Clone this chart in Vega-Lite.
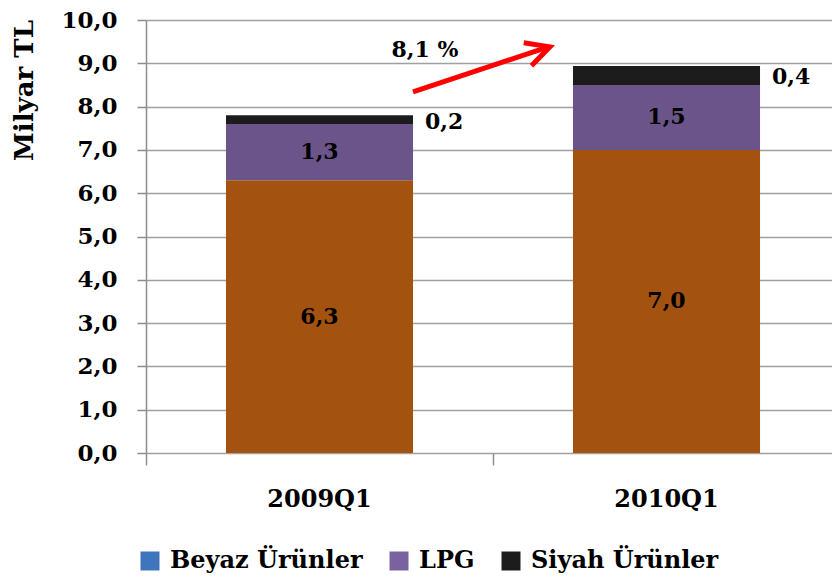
{
  "$schema": "https://vega.github.io/schema/vega-lite/v6.json",
  "width": 686,
  "height": 433,
  "autosize": "none",
  "padding": {"left": 146, "top": 20, "right": 0, "bottom": 124},
  "background": "white",
  "config": {
    "locale": {"number": {"decimal": ",", "thousands": ".", "grouping": [3], "currency": ["", " TL"]}},
    "view": {"stroke": null},
    "font": "DejaVu Serif",
    "text": {"font": "DejaVu Serif", "fontWeight": "bold", "fontSize": 22, "color": "black"}
  },
  "datasets": {
    "bars": [
      {"period": "2009Q1", "seg": "Beyaz Ürünler", "order": 1, "value": 6.3},
      {"period": "2009Q1", "seg": "LPG", "order": 2, "value": 1.3},
      {"period": "2009Q1", "seg": "Siyah Ürünler", "order": 3, "value": 0.2},
      {"period": "2010Q1", "seg": "Beyaz Ürünler", "order": 1, "value": 7.0},
      {"period": "2010Q1", "seg": "LPG", "order": 2, "value": 1.5},
      {"period": "2010Q1", "seg": "Siyah Ürünler", "order": 3, "value": 0.44}
    ],
    "arrow": [
      {"from": "2009Q1", "to": "2010Q1", "y1": 8.34, "y2": 9.38, "ly": 9.31, "label": "8,1 %"}
    ]
  },
  "layer": [
    {
      "data": {"name": "bars"},
      "transform": [
        {"stack": "value", "groupby": ["period"], "sort": [{"field": "order", "order": "ascending"}], "as": ["v0", "v1"]},
        {"calculate": "(datum.v0 + datum.v1) / 2", "as": "mid"}
      ],
      "layer": [
        {
          "mark": {"type": "bar", "width": {"band": 0.539}},
          "encoding": {
            "x": {
              "field": "period", "type": "nominal",
              "scale": {"domain": ["2009Q1", "2010Q1"], "range": [0, 694], "paddingInner": 0, "paddingOuter": 0},
              "axis": {
                "bandPosition": 0, "domain": false, "ticks": true, "tickSize": 12, "tickColor": "#8c8c8c", "tickWidth": 1.5,
                "labelAngle": 0, "labelFont": "DejaVu Serif", "labelFontSize": 24, "labelFontWeight": "bold", "labelColor": "black",
                "labelPadding": 22, "title": null, "grid": false
              }
            },
            "y": {
              "field": "v0", "type": "quantitative",
              "scale": {"domain": [0, 10], "nice": false},
              "axis": {
                "values": [0, 1, 2, 3, 4, 5, 6, 7, 8, 9, 10], "format": ".1f",
                "grid": true, "gridColor": "#a0a0a0", "gridWidth": 1.5,
                "domainColor": "#8c8c8c", "domainWidth": 1.5,
                "tickColor": "#8c8c8c", "tickSize": 9, "tickWidth": 1.5,
                "labelFont": "DejaVu Serif", "labelFontSize": 23, "labelFontWeight": "bold", "labelColor": "black", "labelPadding": 20,
                "title": "Milyar TL", "titleFont": "DejaVu Serif", "titleFontSize": 26, "titleFontWeight": "bold", "titleColor": "black",
                "titleX": -114, "titleY": 70, "titleAngle": -90, "titleAlign": "center", "titleBaseline": "alphabetic"
              }
            },
            "y2": {"field": "v1"},
            "color": {
              "field": "seg", "type": "nominal",
              "scale": {"domain": ["Beyaz Ürünler", "LPG", "Siyah Ürünler"], "range": ["#A3520F", "#6A5489", "#1C1C1C"]},
              "legend": null
            }
          }
        },
        {
          "mark": {"type": "square", "opacity": 0},
          "encoding": {
            "x": {"field": "period", "type": "nominal"},
            "y": {"field": "v1", "type": "quantitative"},
            "color": {
              "field": "seg", "type": "nominal",
              "scale": {"domain": ["Beyaz Ürünler", "LPG", "Siyah Ürünler"], "range": ["#3F75BC", "#7A62A0", "#1C1C1C"]},
              "legend": {
                "orient": "none", "legendX": -8, "legendY": 529, "direction": "horizontal", "title": null,
                "symbolType": "square", "symbolSize": 361, "symbolOpacity": 1, "symbolStrokeWidth": 0,
                "labelFont": "DejaVu Serif", "labelFontWeight": "bold", "labelFontSize": 24, "labelColor": "black",
                "labelLimit": 0, "columnPadding": 24, "labelOffset": 8
              }
            }
          }
        },
        {
          "transform": [{"filter": "datum.seg != 'Siyah Ürünler'"}],
          "mark": {"type": "text", "align": "center", "baseline": "middle"},
          "encoding": {
            "x": {"field": "period", "type": "nominal"},
            "y": {"field": "mid", "type": "quantitative"},
            "text": {"field": "value", "type": "quantitative", "format": ".1f"}
          }
        },
        {
          "transform": [{"filter": "datum.seg == 'Siyah Ürünler'"}],
          "mark": {"type": "text", "align": "left", "baseline": "middle", "dx": 12, "dy": 2},
          "encoding": {
            "x": {"field": "period", "type": "nominal", "bandPosition": 0.7695},
            "y": {"field": "mid", "type": "quantitative"},
            "text": {"field": "value", "type": "quantitative", "format": ".1f"}
          }
        }
      ],
      "resolve": {"scale": {"color": "independent"}, "legend": {"color": "independent"}}
    },
    {
      "data": {"name": "arrow"},
      "layer": [
        {
          "mark": {"type": "rule", "color": "#FF0000", "strokeWidth": 5},
          "encoding": {
            "x": {"field": "from", "type": "nominal", "bandPosition": 0.7695},
            "x2": {"field": "to", "bandPosition": 0.16},
            "y": {"field": "y1", "type": "quantitative"},
            "y2": {"field": "y2"}
          }
        },
        {
          "mark": {"type": "point", "shape": "M -1 -0.52 L 0 0 L -1 0.52", "filled": false, "stroke": "#FF0000", "strokeWidth": 5, "size": 2209, "angle": -18.4, "opacity": 1, "strokeJoin": "miter"},
          "encoding": {
            "x": {"field": "to", "type": "nominal", "bandPosition": 0.164},
            "y": {"field": "y2", "type": "quantitative"}
          }
        },
        {
          "mark": {"type": "text", "align": "center", "baseline": "middle"},
          "encoding": {
            "x": {"field": "from", "type": "nominal", "bandPosition": 0.804},
            "y": {"field": "ly", "type": "quantitative"},
            "text": {"field": "label"}
          }
        }
      ]
    }
  ]
}
